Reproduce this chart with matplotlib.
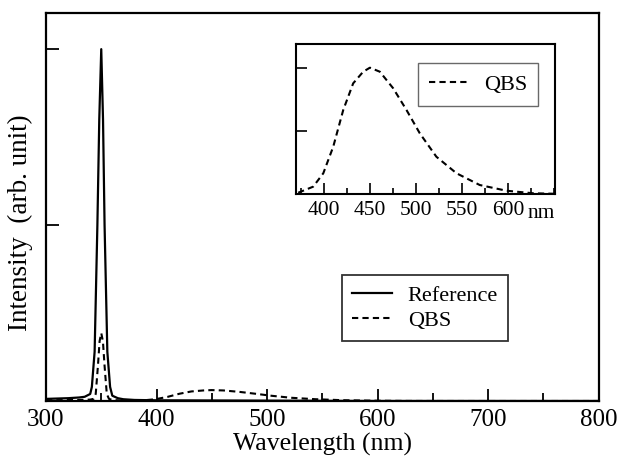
import numpy as np
import matplotlib.pyplot as plt
from matplotlib.ticker import MultipleLocator

plt.rcParams['font.family'] = ['Liberation Serif', 'DejaVu Serif']

# Reference (laser) peak, normalised to 1
ref_wl = [300, 310, 320, 330, 335, 340, 341.5, 344, 346.5, 348.2, 350, 351.6, 353, 355.5, 358, 360, 365, 370, 380, 400, 500, 600, 800]
ref_int = [0.006, 0.007, 0.008, 0.010, 0.012, 0.020, 0.04, 0.14, 0.50, 0.80, 1.0, 0.80, 0.50, 0.14, 0.04, 0.015, 0.008, 0.005, 0.003, 0.002, 0.001, 0.0, 0.0]

# QBS sample: transmitted excitation peak
qbs_peak_wl = [300, 330, 340, 343, 345, 347, 348.5, 350, 351.5, 353, 355, 357, 360, 365]
qbs_peak_int = [0.002, 0.003, 0.004, 0.006, 0.02, 0.10, 0.17, 0.193, 0.17, 0.10, 0.02, 0.006, 0.003, 0.002]

# QBS emission band, normalised to its maximum
band_wl = [371.7, 388, 399, 409.8, 420.7, 431.5, 442.4, 449.7, 460.5, 475, 489.5, 504, 522, 543.9, 569.2, 598.2, 627, 649, 700, 800]
band_int = [0.01, 0.058, 0.164, 0.374, 0.665, 0.876, 0.968, 1.0, 0.968, 0.837, 0.665, 0.48, 0.295, 0.164, 0.071, 0.026, 0.006, 0.002, 0.0, 0.0]
band_height = 0.031  # band maximum on the main-panel scale

fig = plt.figure(figsize=(6.18, 4.63), dpi=100)
ax = fig.add_axes([0.0744, 0.1339, 0.8944, 0.839])

main_wl = qbs_peak_wl + band_wl
main_qbs = qbs_peak_int + [v * band_height for v in band_int]

ax.plot(ref_wl, ref_int, '-', color='black', linewidth=1.6, label='Reference')
ax.plot(main_wl, main_qbs, '--', color='black', linewidth=1.5, dashes=(3, 2), label='QBS')

ax.set_xlim(300, 800)
ax.set_ylim(0, 1.104)
ax.xaxis.set_major_locator(MultipleLocator(100))
ax.xaxis.set_minor_locator(MultipleLocator(50))
ax.set_yticks([0.5, 1.0])
ax.set_yticklabels([])
ax.tick_params(axis='both', which='major', direction='in', length=9, width=1.3, labelsize=18)
ax.tick_params(axis='x', which='minor', direction='in', length=6, width=1.3)
ax.tick_params(axis='x', pad=6)
for s in ax.spines.values():
    s.set_linewidth(1.6)
ax.set_xlabel('Wavelength (nm)', fontsize=18.5, labelpad=1)
ax.set_ylabel('Intensity  (arb. unit)', fontsize=19.5)
ax.yaxis.set_label_coords(-0.024, 0.458)

leg = ax.legend(loc='upper left', bbox_to_anchor=(0.535, 0.324), borderaxespad=0,
                fontsize=16, frameon=True, fancybox=False, edgecolor='black',
                handlelength=1.8, handletextpad=0.72, borderpad=0.45, labelspacing=0.2)
leg.get_frame().set_linewidth(1.3)

# inset
axi = fig.add_axes([0.4785, 0.581, 0.4195, 0.3233])
axi.plot(band_wl, band_int, '--', color='black', linewidth=1.5, dashes=(3, 2), label='QBS')
axi.set_xlim(369, 651)
axi.set_ylim(0, 1.185)
axi.xaxis.set_minor_locator(MultipleLocator(25))
axi.set_xticks([400, 450, 500, 550, 600])
axi.set_yticks([0.5, 1.0])
axi.set_yticklabels([])
axi.tick_params(axis='both', which='major', direction='in', length=8, width=1.2, labelsize=15.5)
axi.tick_params(axis='x', which='minor', direction='in', length=4, width=1.2)
axi.tick_params(axis='x', pad=5)
for s in axi.spines.values():
    s.set_linewidth(1.5)
axi.annotate('nm', xy=(636, 0), xycoords=('data', 'axes fraction'), xytext=(0, -7),
             textcoords='offset points', ha='center', va='top', fontsize=15.5)
li = axi.legend(loc='upper left', bbox_to_anchor=(0.473, 0.873), borderaxespad=0,
                fontsize=16, frameon=True, fancybox=False, edgecolor='#444444',
                handlelength=1.7, handletextpad=0.75, borderpad=0.5)
li.get_frame().set_linewidth(1.0)

fig.savefig('out.png', dpi=100)
